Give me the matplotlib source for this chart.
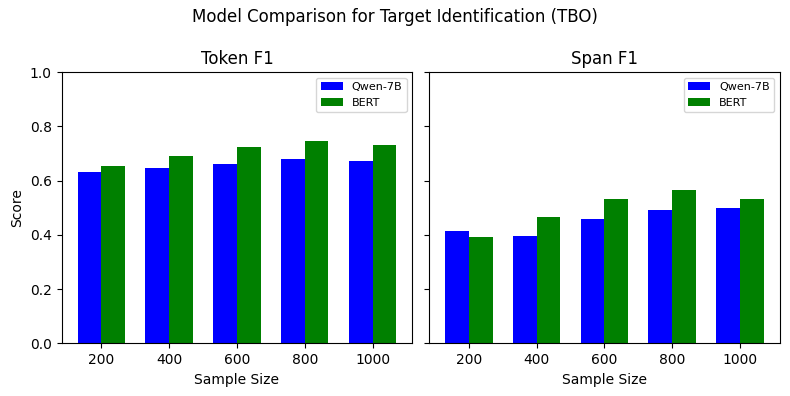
import numpy as np
import matplotlib.pyplot as plt

sample_sizes = [200, 400, 600, 800, 1000]
qwen_token_f1 = [0.632, 0.646, 0.661, 0.679, 0.672]
bert_token_f1 = [0.653, 0.690, 0.723, 0.745, 0.731]
qwen_span_f1 = [0.413, 0.395, 0.458, 0.491, 0.498]
bert_span_f1 = [0.391, 0.465, 0.531, 0.565, 0.531]

x = np.arange(len(sample_sizes))
width = 0.35

fig, axes = plt.subplots(1, 2, figsize=(7.9, 3.96), dpi=100, sharey=True)
panels = [("Token F1", qwen_token_f1, bert_token_f1),
          ("Span F1", qwen_span_f1, bert_span_f1)]

for ax, (title, qwen, bert) in zip(axes, panels):
    ax.bar(x - width / 2, qwen, width, label="Qwen-7B", color="blue")
    ax.bar(x + width / 2, bert, width, label="BERT", color="green")
    ax.set_title(title)
    ax.set_xticks(x)
    ax.set_xticklabels(sample_sizes)
    ax.set_xlabel("Sample Size")
    ax.set_ylim(0, 1)
    ax.legend(fontsize=8)

axes[0].set_ylabel("Score")
fig.suptitle("Model Comparison for Target Identification (TBO)")
# placement
fig.subplots_adjust(left=0.078, right=0.987, top=0.818, bottom=0.133, wspace=0.048)
plt.savefig("out.png")
